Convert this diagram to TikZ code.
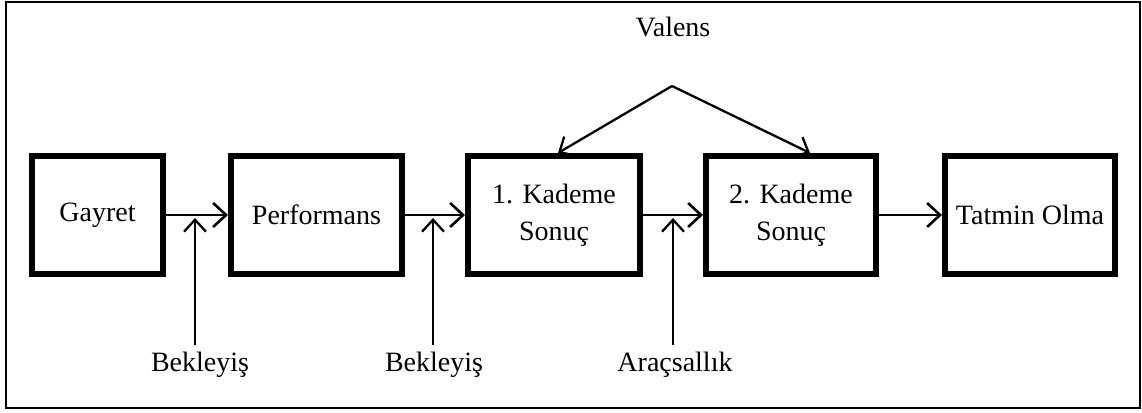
\documentclass[tikz,border=0pt]{standalone}
\usepackage{fontspec}
\setmainfont{Liberation Serif}
\usetikzlibrary{arrows.meta}
\begin{document}
\begin{tikzpicture}[x=1pt,y=-1pt,
  stage/.style={draw, line width=6pt, inner sep=0pt, minimum height=118pt, align=center},
  flow/.style={line width=2.6pt, -{Straight Barb[length=13pt,width=24pt,line width=2.6pt]}},
  feed/.style={line width=2.3pt, -{Straight Barb[length=12pt,width=22pt,line width=2.3pt]}},
  lbl/.style={inner sep=0pt},
  every node/.style={font=\fontsize{28}{37}\selectfont}]
  \useasboundingbox (0,0) rectangle (1142,412);
  \draw[line width=1.5pt] (6,2) rectangle (1140,408);

  % stages
  \node[stage, minimum width=131pt] (g) at (97.5,215) {Gayret};
  \node[stage, minimum width=171pt] (p) at (316.5,215) {Performans};
  \node[stage, minimum width=172pt] (k1) at (554,215) {1. Kademe\\Sonuç};
  \node[stage, minimum width=170pt] (k2) at (791,215) {2. Kademe\\Sonuç};
  \node[stage, minimum width=170pt] (t) at (1030,215) {Tatmin Olma};

  \draw[flow] (g) -- (p);
  \draw[flow] (p) -- (k1);
  \draw[flow] (k1) -- (k2);
  \draw[flow] (k2) -- (t);

  % influences from below
  \node[lbl] (b1) at (200,365) {Bekleyiş};
  \node[lbl] (b2) at (434,365) {Bekleyiş};
  \node[lbl] (ar) at (675,365) {Araçsallık};
  \coordinate (b1s) at (195,345);
  \coordinate (b1e) at (195,218);
  \coordinate (b2s) at (433,345);
  \coordinate (b2e) at (433,218);
  \coordinate (ars) at (673,345);
  \coordinate (are) at (673,218);
  \draw[feed] (b1s) -- (b1e);
  \draw[feed] (b2s) -- (b2e);
  \draw[feed] (ars) -- (are);

  % valence
  \node[lbl] (v) at (673,27) {Valens};
  \coordinate (apex) at (672,86);
  \coordinate (v1) at (558,153);
  \coordinate (v2) at (810,153);
  \draw[feed] (apex) -- (v1);
  \draw[feed] (apex) -- (v2);
\end{tikzpicture}
\end{document}
